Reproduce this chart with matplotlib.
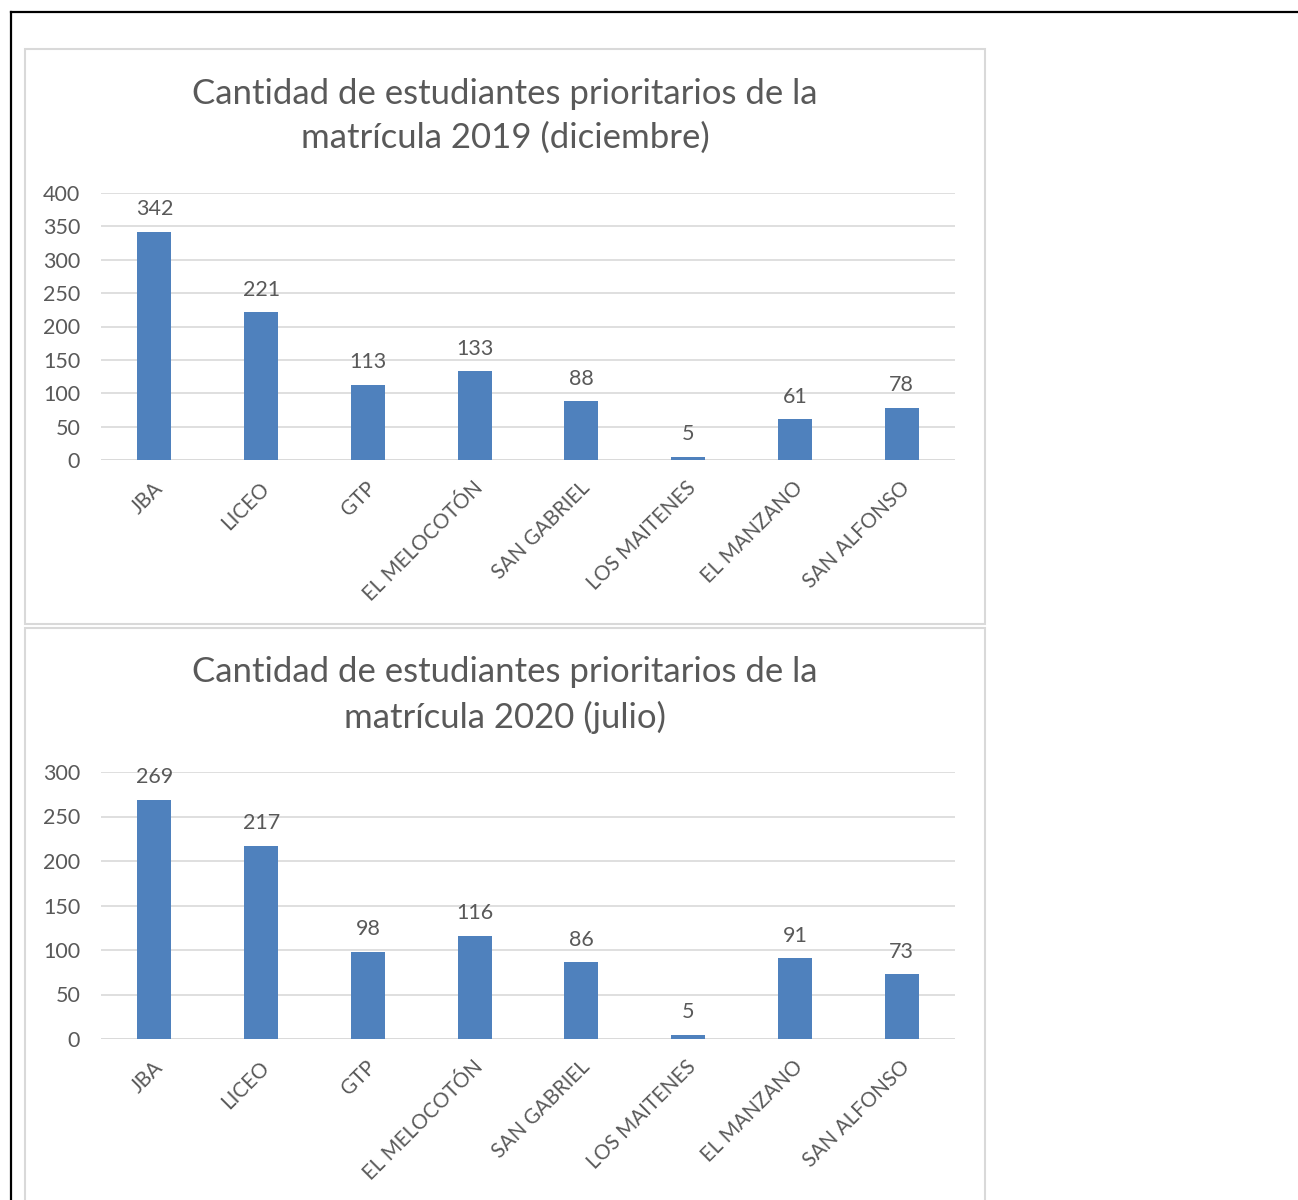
import matplotlib
matplotlib.use("Agg")
from matplotlib import pyplot as plt
from matplotlib.patches import Rectangle
from matplotlib.lines import Line2D
import matplotlib.transforms as mtransforms

schools = ["JBA", "LICEO", "GTP", "EL MELOCOTÓN", "SAN GABRIEL",
           "LOS MAITENES", "EL MANZANO", "SAN ALFONSO"]
values_2019 = [342, 221, 113, 133, 88, 5, 61, 78]
values_2020 = [269, 217, 98, 116, 86, 5, 91, 73]
title_2019 = "Cantidad de estudiantes prioritarios de la\nmatrícula 2019 (diciembre)"
title_2020 = "Cantidad de estudiantes prioritarios de la\nmatrícula 2020 (julio)"

W, H = 1298, 1200
plt.rcParams['font.family'] = ['Lato', 'DejaVu Sans']
text_col = "#595959"
bar_col = "#4f81bd"
grid_col = "#d9d9d9"

fig = plt.figure(figsize=(W / 100, H / 100), dpi=100)


def fx(px):
    return px / W


def fy(py):
    return 1 - py / H


# outer frame lines (black)
fig.add_artist(Line2D([fx(11), fx(11)], [0, fy(12)], color="black", lw=1.6))
fig.add_artist(Line2D([fx(11), 1], [fy(12), fy(12)], color="black", lw=1.6))

# chart boxes
fig.add_artist(Rectangle((fx(25), fy(624)), fx(985) - fx(25), fy(49) - fy(624),
                         fill=False, edgecolor=grid_col, lw=1.5))
fig.add_artist(Rectangle((fx(25), fy(1210)), fx(985) - fx(25), fy(628) - fy(1210),
                         fill=False, edgecolor=grid_col, lw=1.5))


def draw(top_px, bottom_px, vals, ymax, title, title_y):
    ax = fig.add_axes([fx(101), fy(bottom_px), fx(955) - fx(101), fy(top_px) - fy(bottom_px)])
    x = range(len(schools))
    ax.bar(x, vals, width=0.32, color=bar_col, zorder=3)
    ax.set_xlim(-0.5, len(schools) - 0.5)
    ax.set_ylim(0, ymax)
    ax.set_yticks(range(0, ymax + 1, 50))
    ax.grid(axis="y", color=grid_col, lw=1.2, zorder=0)
    for s in ax.spines.values():
        s.set_visible(False)
    ax.axhline(0, color=grid_col, lw=1.2, zorder=1)
    ax.tick_params(length=0, labelsize=15.5, colors=text_col)
    ax.tick_params(axis="y", pad=15)
    ax.tick_params(axis="x", pad=13, labelsize=14.8)
    ax.set_xticks(list(x))
    ax.set_xticklabels(schools, rotation=45, ha="right", rotation_mode="anchor")
    shift = mtransforms.ScaledTranslation(-2 / 100, 0, fig.dpi_scale_trans)
    for lab in ax.get_xticklabels():
        lab.set_transform(lab.get_transform() + shift)
    for xi, v in zip(x, vals):
        ax.annotate(str(v), (xi, v), xytext=(0, 9), textcoords="offset points",
                    ha="center", va="bottom", fontsize=15.5, color=text_col)
    fig.text(fx(505), fy(title_y), title, ha="center", va="center",
             fontsize=25, color=text_col, linespacing=1.45)


draw(193, 460, values_2019, 400, title_2019, 116)
draw(772, 1039, values_2020, 300, title_2020, 695)

fig.savefig("out.png", dpi=100)
